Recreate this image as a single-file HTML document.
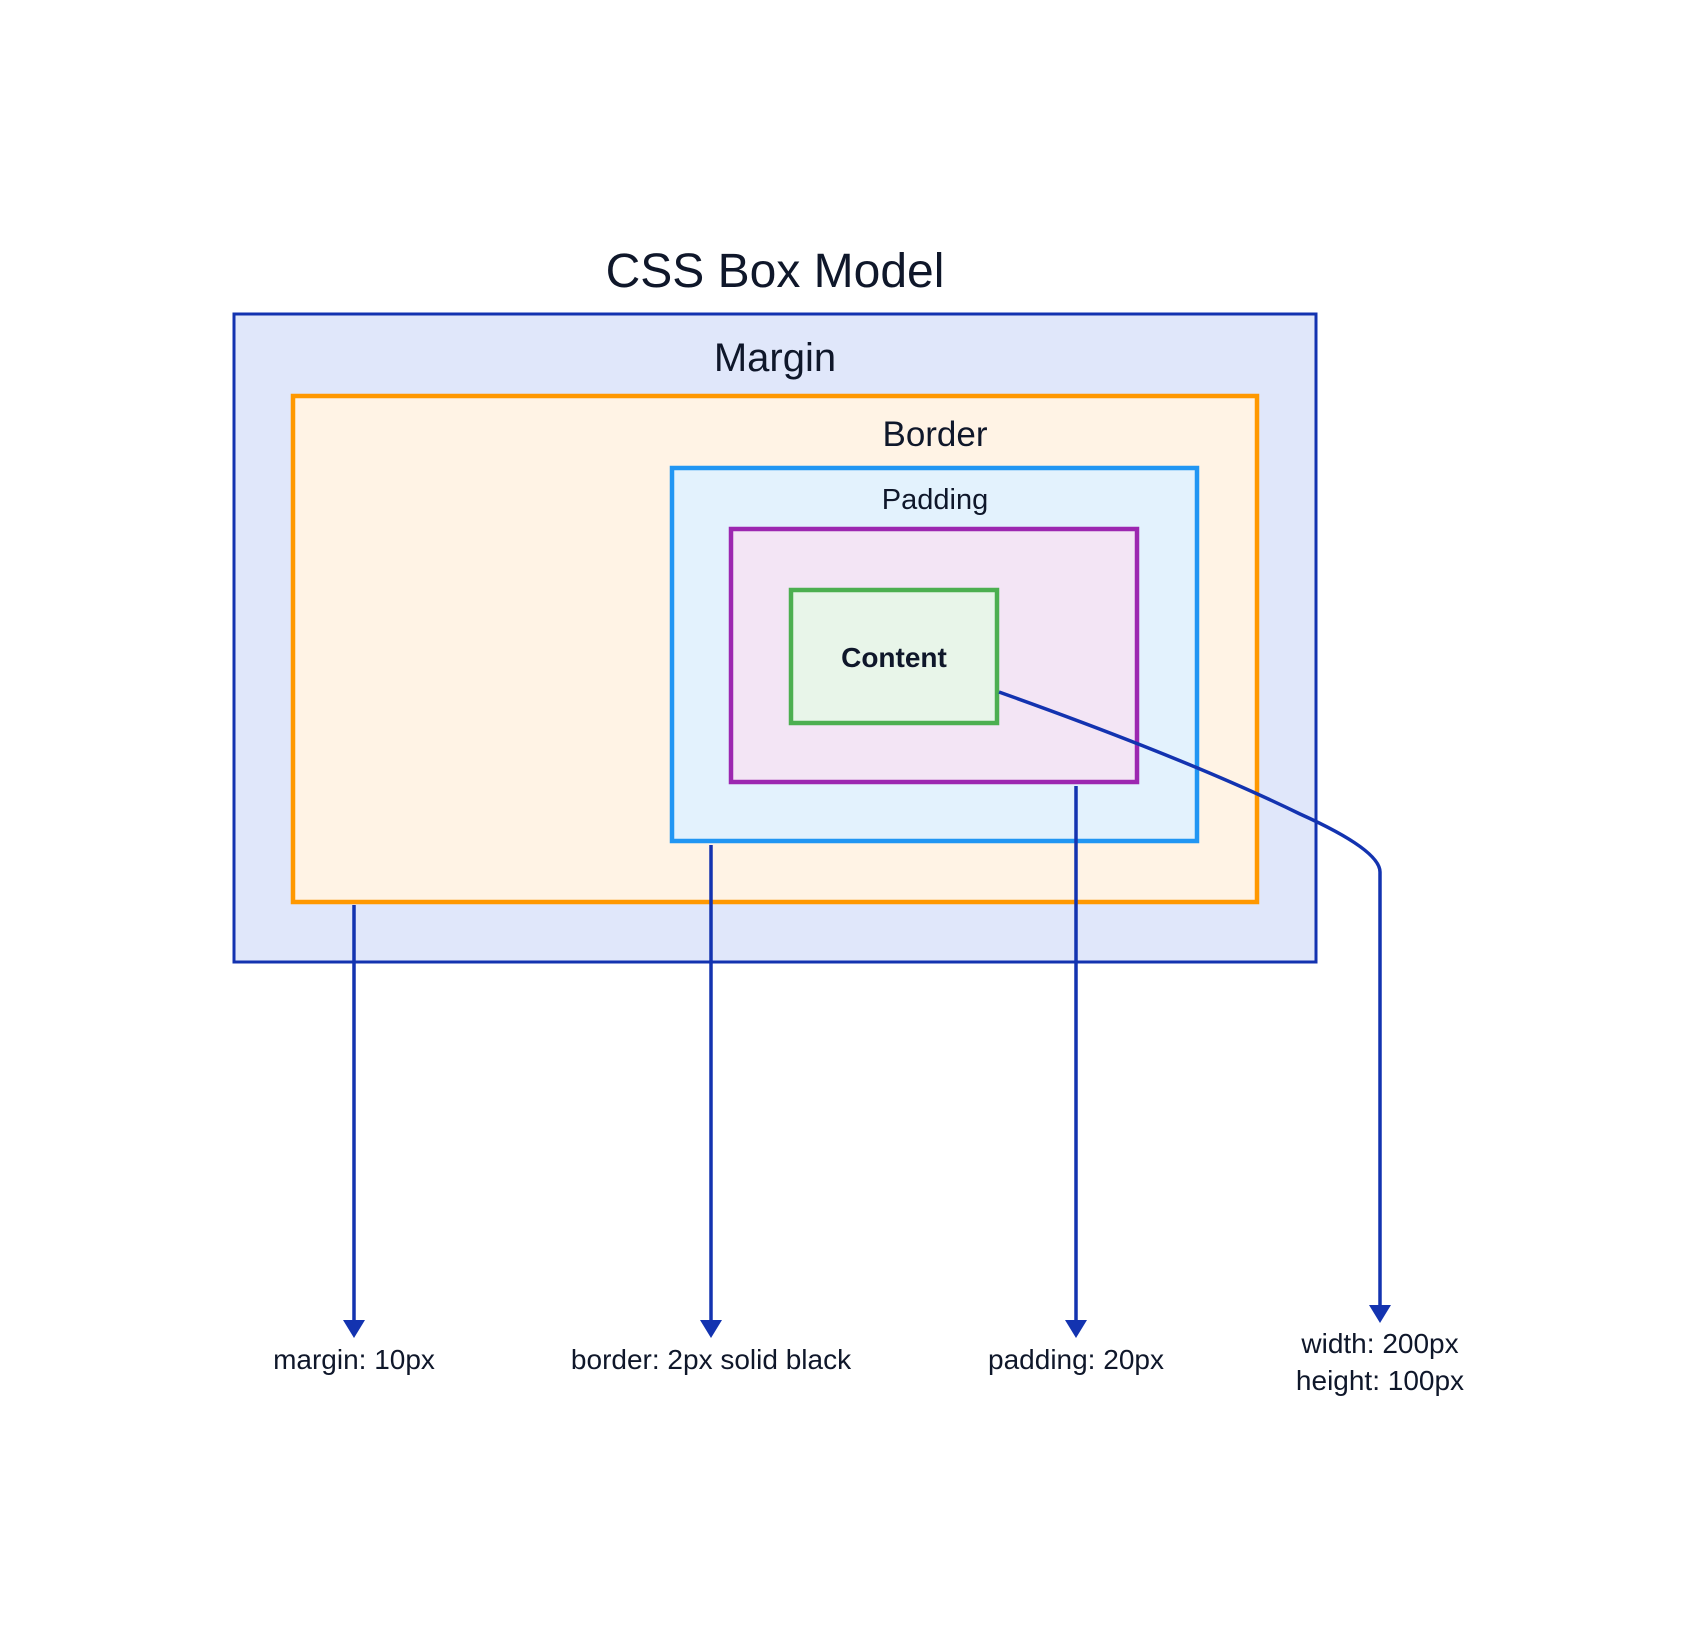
<!DOCTYPE html>
<html><head><meta charset="utf-8"><style>
html,body{margin:0;padding:0;background:#fff;}
svg{display:block;}
text{font-family:"Liberation Sans","DejaVu Sans",sans-serif;fill:#0f172a;}
</style></head><body>
<svg width="1704" height="1630" viewBox="0 0 1704 1630" xmlns="http://www.w3.org/2000/svg">
<text x="775" y="287" font-size="48" text-anchor="middle">CSS Box Model</text>
<rect x="234" y="314" width="1082" height="648" fill="#e0e7fa" stroke="#1333b0" stroke-width="3"/>
<text x="775" y="371" font-size="40" text-anchor="middle">Margin</text>
<rect x="293" y="396" width="964" height="506" fill="#fff3e5" stroke="#ff9800" stroke-width="4.5"/>
<text x="935" y="446" font-size="35" text-anchor="middle">Border</text>
<rect x="672" y="468" width="525" height="373" fill="#e3f2fd" stroke="#2196f3" stroke-width="4.5"/>
<text x="935" y="509" font-size="29" text-anchor="middle">Padding</text>
<rect x="731" y="529" width="406" height="253" fill="#f3e5f5" stroke="#9c27b0" stroke-width="4.5"/>
<rect x="791" y="590" width="206" height="133" fill="#e8f5e9" stroke="#4caf50" stroke-width="4.5"/>
<text x="894" y="667" font-size="28" font-weight="bold" text-anchor="middle">Content</text>
<g stroke="#1333b0" stroke-width="3.5" fill="none">
<line x1="354" y1="905" x2="354" y2="1320"/>
<line x1="711" y1="845" x2="711" y2="1320"/>
<line x1="1076" y1="786" x2="1076" y2="1320"/>
<path d="M999 692 C1100 728 1210 770 1300 814 Q1380 850 1380 872 L1380 1305"/>
</g>
<g fill="#1333b0">
<polygon points="343,1320 365,1320 354,1338"/>
<polygon points="700,1320 722,1320 711,1338"/>
<polygon points="1065,1320 1087,1320 1076,1338"/>
<polygon points="1369,1305 1391,1305 1380,1323"/>
</g>
<g font-size="28" text-anchor="middle">
<text x="354" y="1369">margin: 10px</text>
<text x="711" y="1369">border: 2px solid black</text>
<text x="1076" y="1369">padding: 20px</text>
<text x="1380" y="1353">width: 200px</text>
<text x="1380" y="1390">height: 100px</text>
</g>
</svg>
</body></html>
